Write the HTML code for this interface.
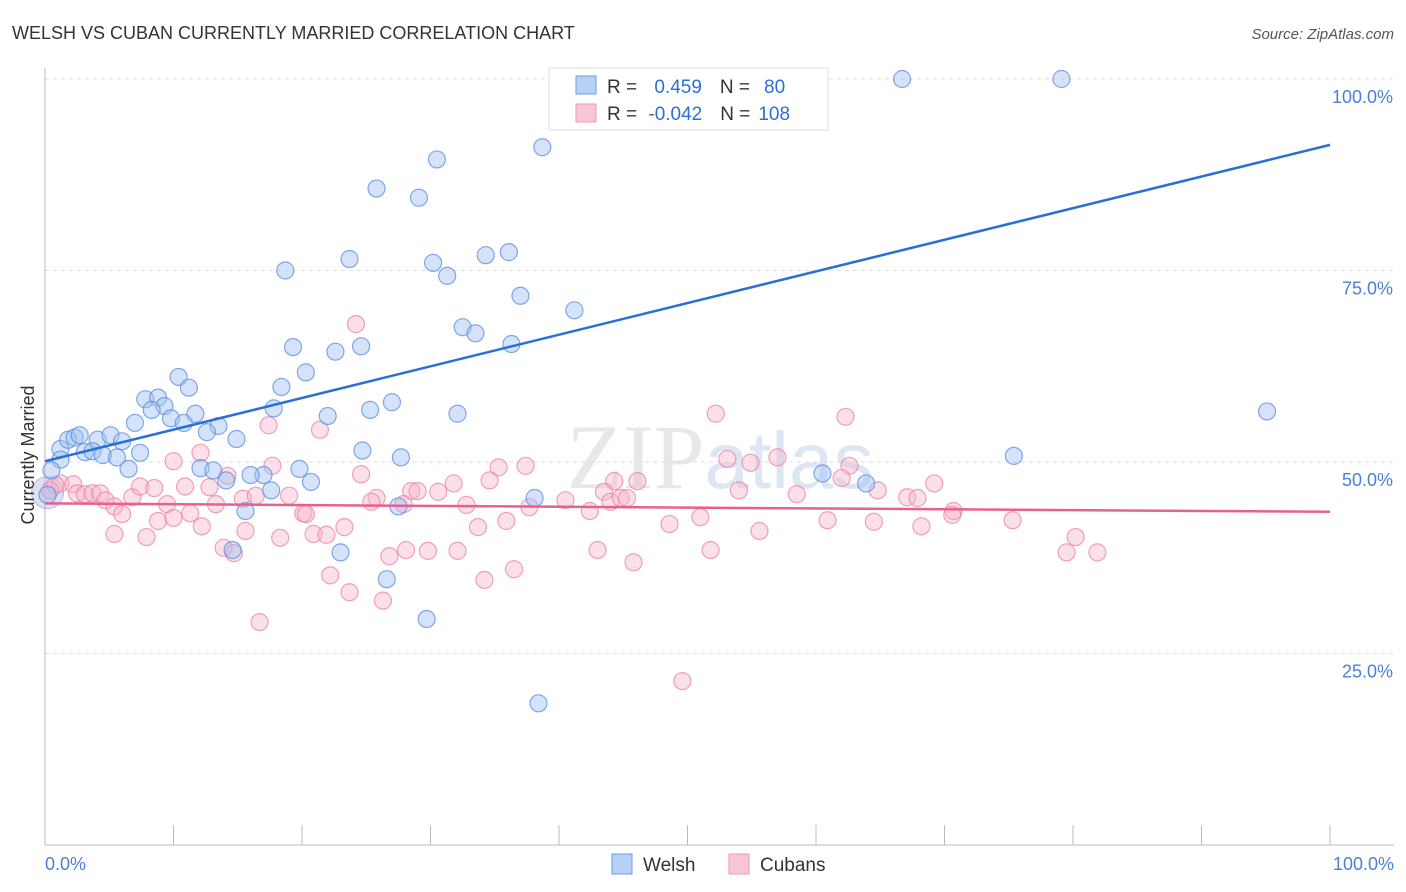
<!DOCTYPE html>
<html><head><meta charset="utf-8"><style>
body{margin:0;background:#fff;font-family:"Liberation Sans",sans-serif;}
svg{display:block}
</style></head><body>
<svg id="chart" width="1406" height="892">
<text x="12" y="39" font-size="18" fill="#333">WELSH VS CUBAN CURRENTLY MARRIED CORRELATION CHART</text>
<text x="1394" y="39" font-size="15" fill="#555" font-style="italic" text-anchor="end">Source: ZipAtlas.com</text>
<text x="720" y="488" font-size="92" fill="#e8e8e8" text-anchor="middle" font-family="Liberation Serif,serif">ZIP<tspan fill="#dde6f3" font-family="Liberation Sans,sans-serif" font-size="80">atlas</tspan></text>
<g id="grid"></g>
<g id="axes"></g>
<g id="marks"></g>
<text transform="translate(34,455) rotate(-90)" font-size="18" fill="#333" text-anchor="middle">Currently Married</text>
<g>
<rect x="549" y="68" width="279" height="62" fill="#fff" stroke="#ddd"/>
<rect x="576" y="76" width="20" height="18" fill="#b7d0f5" stroke="#6d9ee8"/>
<rect x="576" y="104" width="20" height="18" fill="#f9c6d6" stroke="#ee98b6"/>
<text x="607" y="93" font-size="19" fill="#333">R = <tspan fill="#2d6fd6" dx="12">0.459</tspan><tspan fill="#333" dx="18">N =</tspan><tspan fill="#2d6fd6" dx="14">80</tspan></text>
<text x="607" y="120" font-size="19" fill="#333">R = <tspan fill="#2d6fd6" dx="6">-0.042</tspan><tspan fill="#333" dx="18">N =</tspan><tspan fill="#2d6fd6" dx="8">108</tspan></text>
</g>
<g>
<rect x="612" y="854" width="20" height="20" fill="#b7d0f5" stroke="#6d9ee8"/>
<text x="643" y="871" font-size="19" fill="#333">Welsh</text>
<rect x="729" y="854" width="20" height="20" fill="#f9c6d6" stroke="#ee98b6"/>
<text x="760" y="871" font-size="19" fill="#333">Cubans</text>
</g>
</svg>
<script>
const welshX=[40.1,45.7,54.2,66.7,79.1,47.5,38.7,30.5,25.8,29.1,18.7,23.7,30.2,31.3,34.3,36.1,37.0,41.2,32.5,33.5,36.3,19.3,22.6,24.6,20.3,18.4,27.0,10.4,11.2,7.8,8.8,9.3,8.3,7.0,9.8,10.8,11.7,13.5,12.6,14.9,17.8,22.0,25.3,32.1,24.7,27.7,19.8,20.7,17.0,16.0,17.6,14.1,12.1,13.1,15.6,14.6,23.0,26.6,27.5,29.7,38.1,38.4,60.5,63.9,75.4,95.1,1.2,1.8,2.3,2.7,4.1,5.1,6.0,3.1,3.7,4.5,5.6,7.4,6.5,1.2,0.5,0.2];
const welshY=[100,100,100,100,100,94.5,91.1,89.5,85.7,84.5,75.0,76.5,76.0,74.3,77.0,77.4,71.7,69.8,67.6,66.8,65.4,65.0,64.4,65.1,61.7,59.8,57.8,61.1,59.7,58.2,58.4,57.3,56.8,55.1,55.7,55.1,56.3,54.7,53.9,53.0,57.0,56.0,56.8,56.3,51.5,50.6,49.1,47.4,48.3,48.3,46.3,47.6,49.2,48.9,43.6,38.5,38.2,34.7,44.2,29.5,45.3,18.5,48.5,47.2,50.8,56.6,51.7,52.9,53.2,53.5,52.9,53.5,52.7,51.3,51.4,50.9,50.6,51.2,49.1,50.3,48.9,45.7];
const cubanX=[24.2,17.4,21.4,10.0,12.1,14.2,17.7,24.6,35.3,37.4,52.2,62.3,53.1,54.9,57.0,62.6,62.0,44.3,46.1,64.8,54.0,69.2,34.6,31.8,28.5,29.0,30.6,25.8,25.4,27.9,32.8,37.7,40.5,43.5,44.0,44.8,45.3,58.5,67.1,67.9,70.7,70.6,75.3,48.6,51.0,55.6,60.9,64.5,68.2,33.7,35.9,42.4,1.2,2.2,2.5,3.1,3.7,4.3,4.7,5.4,6.0,6.8,7.4,8.5,9.5,10.9,12.8,15.4,16.4,19.0,20.1,20.3,8.8,10.0,11.3,12.2,13.3,15.6,5.4,7.9,13.9,14.7,18.3,20.9,21.9,23.3,26.8,28.1,29.8,32.1,43.0,51.8,79.5,80.2,81.9,34.2,36.5,45.8,22.2,23.7,26.3,16.7,49.6,0.4,0.8];
const cubanY=[68.0,54.8,54.2,50.1,51.2,48.2,49.5,48.4,49.3,49.5,56.3,55.9,50.4,49.9,50.6,49.5,47.9,47.5,47.5,46.3,46.3,47.2,47.6,47.2,46.2,46.2,46.1,45.3,44.8,44.5,44.4,44.1,45.0,46.1,44.8,45.3,45.3,45.8,45.4,45.3,43.6,43.1,42.4,41.9,42.8,41.0,42.4,42.2,41.6,41.5,42.3,43.6,47.2,47.1,45.9,45.8,45.9,45.9,45.0,44.2,43.2,45.4,46.8,46.6,44.5,46.8,46.7,45.2,45.6,45.6,43.3,43.2,42.3,42.7,43.3,41.6,44.5,41.0,40.6,40.2,38.8,38.1,40.1,40.6,40.5,41.5,37.7,38.5,38.4,38.4,38.5,38.5,38.2,40.2,38.2,34.6,36.0,36.9,35.2,33.0,31.9,29.1,21.4,46.3,47.0];
const trendX=[0,100];
const welshTrend=[50.1,91.4];
const cubanTrend=[44.6,43.5];
const yTicks=[25,50,75,100];
const yTickLabels=["25.0%","50.0%","75.0%","100.0%"];
const xTickCount=10;

const NS="http://www.w3.org/2000/svg";
const X0=45,X1=1330,Y0=845,Y100=79;
const sx=v=>X0+(X1-X0)*v/100;
const sy=v=>Y0-(Y0-Y100)*v/100;
function mk(tag,attrs,parent){const e=document.createElementNS(NS,tag);for(const k in attrs)e.setAttribute(k,attrs[k]);parent.appendChild(e);return e;}
const grid=document.getElementById('grid'),axes=document.getElementById('axes'),marks=document.getElementById('marks');
yTicks.forEach((t,i)=>{
 const l=mk('line',{x1:X0,x2:1394,y1:sy(t),y2:sy(t),stroke:'#ddd','stroke-dasharray':'4,4'},grid);
 
 
 const tx=mk('text',{x:1393,y:sy(t)+24,'font-size':18,fill:'#4a7fd8','text-anchor':'end'},axes);
 tx.textContent=yTickLabels[i];
 
 
});
const ya=mk('line',{x1:X0,x2:X0,y1:68,y2:Y0,stroke:'#bbb'},axes);


const xa=mk('line',{x1:X0,x2:1394,y1:Y0,y2:Y0,stroke:'#bbb'},axes);


for(let i=0;i<=xTickCount;i++){
 const x=sx(i*100/xTickCount);
 const t=mk('line',{x1:x,x2:x,y1:825,y2:Y0,stroke:'#bbb'},axes);
 
 
}
const xl0=mk('text',{x:45,y:870,'font-size':18,fill:'#4a7fd8'},axes);xl0.textContent='0.0%';


const xl1=mk('text',{x:1394,y:870,'font-size':18,fill:'#4a7fd8','text-anchor':'end'},axes);xl1.textContent='100.0%';


// big circle near origin
const bc=mk('circle',{cx:sx(0.2),cy:sy(46),r:16,fill:'rgba(160,170,220,0.35)',stroke:'rgba(150,150,210,0.6)'},marks);


cubanX.forEach((v,i)=>{
 const c=mk('circle',{cx:sx(v),cy:sy(cubanY[i]),r:8.5,fill:'rgba(248,178,200,0.4)',stroke:'rgba(236,130,165,0.75)','stroke-width':1.2},marks);
 
 
});
welshX.forEach((v,i)=>{
 const c=mk('circle',{cx:sx(v),cy:sy(welshY[i]),r:8.5,fill:'rgba(160,192,242,0.45)',stroke:'rgba(90,140,225,0.75)','stroke-width':1.2},marks);
 
 
});
const bl=mk('line',{x1:sx(trendX[0]),y1:sy(welshTrend[0]),x2:sx(trendX[1]),y2:sy(welshTrend[1]),stroke:'#2a6fd8','stroke-width':2.5},marks);


const pl=mk('line',{x1:sx(trendX[0]),y1:sy(cubanTrend[0]),x2:sx(trendX[1]),y2:sy(cubanTrend[1]),stroke:'#e8608e','stroke-width':2.5},marks);


</script>
</body></html>
